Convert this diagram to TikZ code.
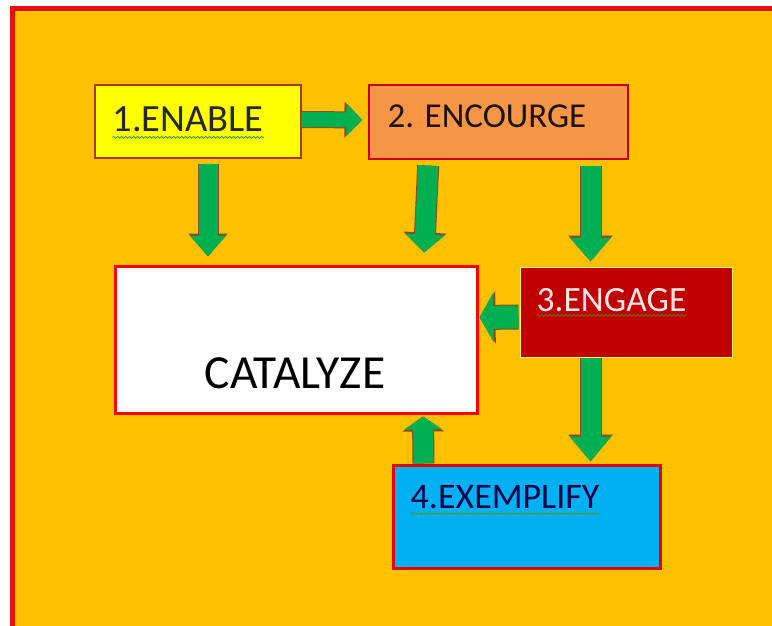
\documentclass[tikz,border=0pt]{standalone}
\usepackage{fontspec}
\setmainfont{Carlito}
\usetikzlibrary{arrows.meta, decorations.pathmorphing}

\definecolor{bgorange}{HTML}{FFC000}
\definecolor{framered}{HTML}{E81010}
\definecolor{enablefill}{HTML}{FFFF00}
\definecolor{encourgefill}{HTML}{F79646}
\definecolor{engagefill}{HTML}{C00000}
\definecolor{exemplifyfill}{HTML}{00B0F0}
\definecolor{arrowgreen}{HTML}{00B050}
\definecolor{arrowedge}{HTML}{8E4A1E}
\definecolor{spellgreen}{HTML}{3E9B47}

\tikzset{
  box/.style={rectangle, inner sep=0pt},
  lbl/.style={inner sep=0pt, anchor=base west, font=\fontsize{35}{40}\selectfont},
  blockarrow/.style n args={3}{line width=#1, draw=arrowgreen, -{Triangle[width=#2, length=#3]},
    preaction={draw=arrowedge, line width=#1+2pt, -{Triangle[width=#2+3pt, length=#3+2pt]}}},
  squiggle/.style={draw=spellgreen, line width=0.8pt, decorate,
    decoration={snake, amplitude=1pt, segment length=4pt}}
}

\begin{document}
\begin{tikzpicture}[x=1pt, y=-1pt]
  \clip (0,0) rectangle (772,625);
  \fill[white] (0,0) rectangle (772,625);
  \draw[line width=4.5pt, draw=framered, fill=bgorange] (12.5,8.5) rectangle (800,650);

  % boxes
  \node[box, draw=arrowedge!80!red, line width=1.2pt, fill=enablefill,
        minimum width=206pt, minimum height=73pt] (enable) at (198,121.5) {};
  \node[box, draw=red!80!black, line width=1.2pt, fill=encourgefill,
        minimum width=259pt, minimum height=74pt] (encourge) at (498.5,122) {};
  \node[box, draw=red, line width=3pt, fill=white,
        minimum width=362pt, minimum height=147pt] (catalyze) at (296,339.5) {};
  \node[box, draw=yellow!60!white, line width=1pt, fill=engagefill,
        minimum width=212pt, minimum height=90pt] (engage) at (626,312) {};
  \node[box, draw=red!90!black, line width=3pt, fill=exemplifyfill,
        minimum width=267pt, minimum height=103pt] (exemplify) at (526.5,516.5) {};

  % labels
  \node[lbl, text=black!85, font=\fontsize{38.5}{44}\selectfont] (enabletxt)
        at ([shift={(18,47)}]enable.north west) {1.ENABLE};
  \node[lbl, text=black!85!brown] (encourgetxt) at ([shift={(19,43)}]encourge.north west) {2. ENCOURGE};
  \node[lbl, text=red!10!white, font=\fontsize{35.5}{40}\selectfont] (engagetxt)
        at ([shift={(17,45)}]engage.north west) {3.ENGAGE};
  \node[lbl, text=blue!30!black, font=\fontsize{36}{40}\selectfont] (exemplifytxt)
        at ([shift={(19,45)}]exemplify.north west) {4.EXEMPLIFY};
  \node[inner sep=0pt, anchor=base, font=\fontsize{47.5}{52}\selectfont] (catalyzetxt)
        at ([shift={(-1,48.5)}]catalyze.center) {CATALYZE};

  \draw[squiggle] ([yshift=-6pt]enabletxt.base west) -- ([yshift=-6pt]enabletxt.base east);
  \draw[squiggle, draw=olive!70!black] ([yshift=-4pt]engagetxt.base west) -- ([yshift=-4pt]engagetxt.base east);
  \draw[squiggle] ([yshift=-5pt]exemplifytxt.base west) -- ([yshift=-5pt]exemplifytxt.base east);

  % arrows
  \draw[blockarrow={15pt}{32pt}{16pt}, shorten >=6pt]
    ([yshift=2pt]enable.east) -- ([yshift=2pt]encourge.west);
  \draw[blockarrow={19pt}{35pt}{21pt}, shorten <=5pt, shorten >=8pt]
    ([xshift=10pt]enable.south) -- ([xshift=-88pt]catalyze.north);
  \draw[blockarrow={20pt}{39pt}{18pt}, shorten <=6pt, shorten >=12pt]
    ([xshift=-70pt]encourge.south) -- ([xshift=-55pt]catalyze.north east);
  \draw[blockarrow={20pt}{40pt}{24pt}, shorten <=6pt, shorten >=5pt]
    ([xshift=92pt]encourge.south) -- ([xshift=-35.5pt]engage.north);
  \draw[blockarrow={23pt}{49pt}{14pt}, shorten <=1pt, shorten >=1pt]
    ([yshift=-5pt]engage.west) -- ([yshift=22pt]catalyze.east);
  \draw[blockarrow={20pt}{40pt}{25pt}, shorten >=2pt]
    ([xshift=-35.5pt]engage.south) -- ([xshift=64pt]exemplify.north);
  \draw[blockarrow={20pt}{38pt}{13pt}, shorten >=2pt]
    ([xshift=-103pt]exemplify.north) -- ([xshift=127pt]catalyze.south);
\end{tikzpicture}
\end{document}
